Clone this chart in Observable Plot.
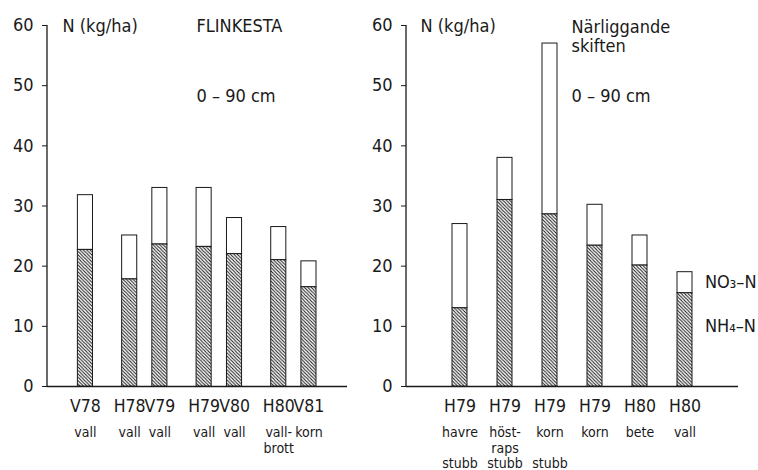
<!DOCTYPE html>
<html>
<head>
<meta charset="utf-8">
<script src="https://cdn.jsdelivr.net/npm/d3@7"></script>
<script src="https://cdn.jsdelivr.net/npm/@observablehq/plot@0.6"></script>
<style>
  html, body { margin: 0; padding: 0; background: #fff; }
  #wrap { position: relative; width: 758px; height: 470px; overflow: hidden; }
  #wrap svg { position: absolute; top: 0; overflow: visible; }
</style>
</head>
<body>
<div id="wrap"></div>
<script>
// ---------- data: left panel (FLINKESTA) ----------
const leftPeriods = ["V78", "H78", "V79", "H79", "V80", "H80", "V81"];
const leftDates = ["1978-04-15", "1978-11-18", "1979-04-15", "1979-11-18", "1980-04-15", "1980-11-18", "1981-04-15"];
const leftCrops = ["vall", "vall", "vall", "vall", "vall", "vall-\nbrott", "korn"];
const leftTotal = [31.8, 25.1, 33.0, 33.0, 28.0, 26.5, 20.8];
const leftNH4 = [22.7, 17.8, 23.6, 23.2, 22.0, 21.0, 16.5];

// ---------- data: right panel (Närliggande skiften) ----------
const rightPeriods = ["H79", "H79", "H79", "H79", "H80", "H80"];
const rightCrops = ["havre\n\nstubb", "höst-\nraps\nstubb", "korn\n\nstubb", "korn", "bete", "vall"];
const rightTotal = [27.0, 38.0, 57.0, 30.2, 25.1, 19.0];
const rightNH4 = [13.0, 31.0, 28.6, 23.4, 20.1, 15.5];

const yTicks = [0, 10, 20, 30, 40, 50, 60];
const legendLabels = ["NO₃–N", "NH₄–N"];

const FONT = "'DejaVu Sans Condensed', 'Liberation Sans Narrow', 'DejaVu Sans', sans-serif";
const INK = "#1a1a1a";

function hatchDefs(id) {
  return () => {
    const defs = d3.create("svg:defs");
    const s = 3.4;
    const p = defs.append("pattern")
      .attr("id", id)
      .attr("patternUnits", "userSpaceOnUse")
      .attr("width", s).attr("height", s);
    p.append("rect").attr("width", s).attr("height", s).attr("fill", "#fff");
    p.append("path")
      .attr("d", `M0,0L${s},${s}M${-s/4},${s*3/4}L${s/4},${s*5/4}M${s*3/4},${-s/4}L${s*5/4},${s/4}`)
      .attr("stroke", INK).attr("stroke-width", 1.05);
    return defs.node();
  };
}

// vertical axis line drawn at the frame's left edge through the y scale
function yAxisLine(index, scales, values, dimensions) {
  const g = d3.create("svg:line")
    .attr("x1", dimensions.marginLeft).attr("x2", dimensions.marginLeft)
    .attr("y1", scales.y(0)).attr("y2", scales.y(60))
    .attr("stroke", INK).attr("stroke-width", 1.3);
  return g.node();
}

const commonStyle = {fontFamily: FONT, fontSize: "18px", color: INK, background: "transparent", overflow: "visible"};

// ---------- left chart ----------
const parse = d3.utcParse("%Y-%m-%d");
const leftData = leftPeriods.map((p, i) => ({
  period: p, date: parse(leftDates[i]), crop: leftCrops[i], total: leftTotal[i], nh4: leftNH4[i]
}));
const periodByTime = new Map(leftData.map(d => [+d.date, d.period]));
const cropByTime = new Map(leftData.map(d => [+d.date, d.crop]));
const halfDays = 37;
const leftDomain = [parse("1977-10-11"), parse("1981-10-21")];

const left = Plot.plot({
  width: 379, height: 470,
  marginLeft: 47, marginRight: 32, marginTop: 25, marginBottom: 84,
  style: commonStyle,
  x: {type: "utc", domain: leftDomain, axis: null, label: null},
  y: {domain: [0, 60], axis: null, label: null},
  marks: [
    hatchDefs("hatchL"),
    Plot.axisY({ticks: yTicks, tickSize: 5, tickPadding: 9, fontSize: 18, stroke: INK, fill: INK, label: null}),
    yAxisLine,
    Plot.ruleY([0], {stroke: INK, strokeWidth: 1.3}),
    Plot.rectY(leftData, {
      x1: d => d3.utcDay.offset(d.date, -halfDays), x2: d => d3.utcDay.offset(d.date, halfDays),
      y1: "nh4", y2: "total", fill: "#fff", stroke: INK, strokeWidth: 1
    }),
    Plot.rectY(leftData, {
      x1: d => d3.utcDay.offset(d.date, -halfDays), x2: d => d3.utcDay.offset(d.date, halfDays),
      y1: 0, y2: "nh4", fill: "url(#hatchL)", stroke: INK, strokeWidth: 1
    }),
    Plot.axisX({ticks: leftData.map(d => d.date), tickFormat: d => periodByTime.get(+d),
      tickSize: 0, tickPadding: 13, fontSize: 17.5, fill: INK, label: null}),
    Plot.axisX({ticks: leftData.map(d => d.date), tickFormat: d => cropByTime.get(+d),
      tickSize: 0, tickPadding: 40, fontSize: 14, lineHeight: 1.1, fill: INK, label: null}),
    Plot.text(["N (kg/ha)"], {frameAnchor: "top-left", dx: 15, dy: 1, textAnchor: "start", lineAnchor: "middle", fontSize: 18, fill: INK}),
    Plot.text(["FLINKESTA"], {frameAnchor: "top-left", dx: 149, dy: 1, textAnchor: "start", lineAnchor: "middle", fontSize: 18, fill: INK}),
    Plot.text(["0 – 90 cm"], {frameAnchor: "top-left", dx: 149, dy: 71, textAnchor: "start", lineAnchor: "middle", fontSize: 18, fill: INK})
  ]
});
left.style.left = "0px";

// ---------- right chart ----------
const rightData = rightPeriods.map((p, i) => ({
  idx: i, period: p, crop: rightCrops[i], total: rightTotal[i], nh4: rightNH4[i]
}));
const idxs = rightData.map(d => d.idx);

const right = Plot.plot({
  width: 418, height: 470,
  marginLeft: 66, marginRight: 20, marginTop: 25, marginBottom: 84,
  style: commonStyle,
  x: {type: "band", domain: idxs, paddingInner: 0.668, paddingOuter: 1.0, axis: null, label: null},
  y: {domain: [0, 60], axis: null, label: null},
  marks: [
    hatchDefs("hatchR"),
    Plot.axisY({ticks: yTicks, tickSize: 5, tickPadding: 9, fontSize: 18, stroke: INK, fill: INK, label: null}),
    yAxisLine,
    Plot.ruleY([0], {stroke: INK, strokeWidth: 1.3}),
    Plot.barY(rightData, {x: "idx", y1: "nh4", y2: "total", fill: "#fff", stroke: INK, strokeWidth: 1}),
    Plot.barY(rightData, {x: "idx", y1: 0, y2: "nh4", fill: "url(#hatchR)", stroke: INK, strokeWidth: 1}),
    Plot.axisX({ticks: idxs, tickFormat: i => rightPeriods[i], tickSize: 0, tickPadding: 13, fontSize: 17.5, fill: INK, label: null}),
    Plot.axisX({ticks: idxs, tickFormat: i => rightCrops[i], tickSize: 0, tickPadding: 40, fontSize: 14, lineHeight: 1.1, fill: INK, label: null}),
    Plot.text(["N (kg/ha)"], {frameAnchor: "top-left", dx: 14, dy: 1, textAnchor: "start", lineAnchor: "middle", fontSize: 18, fill: INK}),
    Plot.text(["Närliggande\nskiften"], {frameAnchor: "top-left", dx: 165, dy: -7, textAnchor: "start", lineAnchor: "top", lineHeight: 1.1, fontSize: 18, fill: INK}),
    Plot.text(["0 – 90 cm"], {frameAnchor: "top-left", dx: 165, dy: 71, textAnchor: "start", lineAnchor: "middle", fontSize: 18, fill: INK}),
    Plot.text([rightData[5]], {x: "idx", y: d => (d.nh4 + d.total) / 2, text: () => legendLabels[0], dx: 20, textAnchor: "start", fontSize: 18, fill: INK}),
    Plot.text([rightData[5]], {x: "idx", y: d => d.nh4 * 0.65, text: () => legendLabels[1], dx: 20, textAnchor: "start", fontSize: 18, fill: INK})
  ]
});
right.style.left = "340px";

document.getElementById("wrap").append(left, right);
</script>
</body>
</html>
